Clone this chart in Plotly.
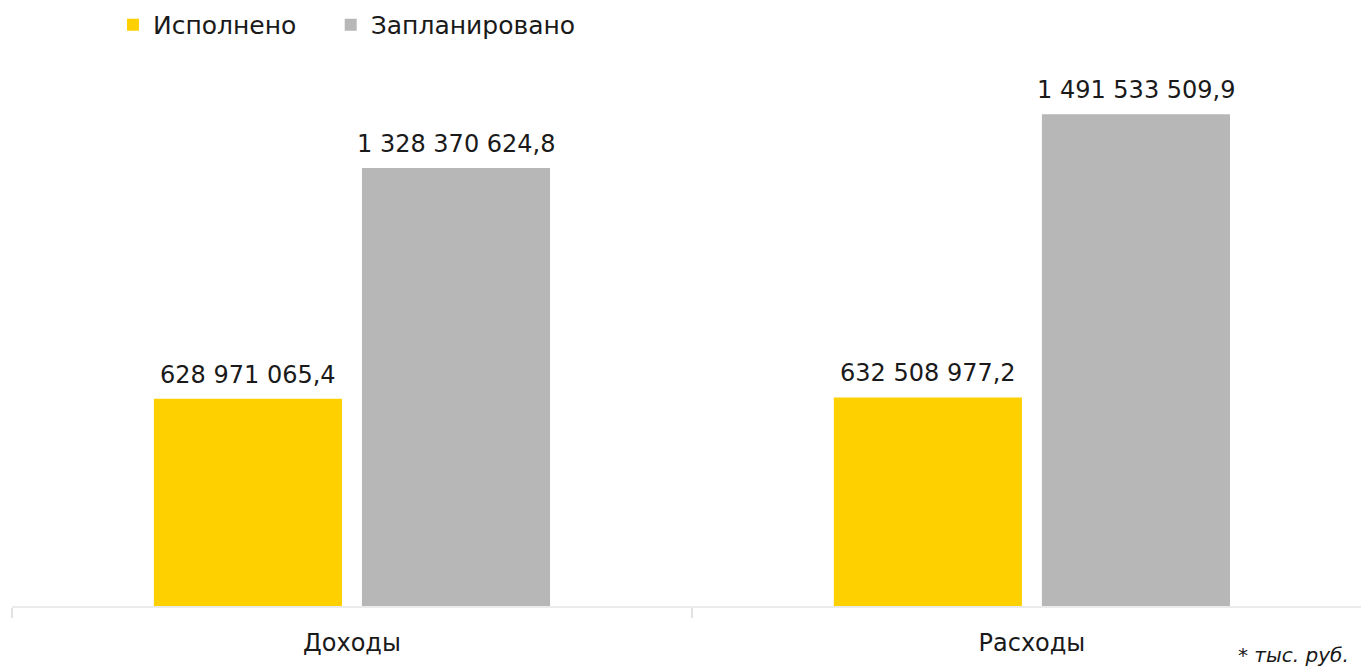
import plotly.graph_objects as go

categories = ["Доходы", "Расходы"]
executed = [628971065.4, 632508977.2]
planned = [1328370624.8, 1491533509.9]
series_names = ["Исполнено", "Запланировано"]
colors = ["#FFD000", "#B7B7B7"]
note = "* тыс. руб."

def fmt(v):
    return f"{v:,.1f}".replace(",", " ").replace(".", ",")

FONT = "DejaVu Sans"
TXT = "#1a1a1a"
SLOT_PX = 104  # half of a bar slot, px

fig = go.Figure()
for i, (name, vals, col) in enumerate(zip(series_names, [executed, planned], colors)):
    fig.add_trace(go.Bar(
        x=categories, y=vals, name=name, marker_color=col, marker_line_width=0,
        legend="legend" if i == 0 else "legend2",
    ))

# value labels above bars
for i, vals in enumerate([executed, planned]):
    shift = -SLOT_PX if i == 0 else SLOT_PX
    for cat, v in zip(categories, vals):
        fig.add_annotation(x=cat, y=v, xref="x", yref="y", text=fmt(v), showarrow=False,
                           xanchor="center", yanchor="middle", xshift=shift, yshift=24,
                           font=dict(family=FONT, size=24, color=TXT))

leg_common = dict(orientation="h", xref="container", yref="paper", y=1.045,
                  xanchor="left", yanchor="middle", font=dict(size=25, family=FONT, color=TXT),
                  itemwidth=30, bgcolor="rgba(0,0,0,0)")

fig.update_layout(
    width=1361, height=667,
    margin=dict(l=12, r=0, t=50, b=61, autoexpand=False),
    paper_bgcolor="white", plot_bgcolor="white",
    barmode="group", bargap=0.388, bargroupgap=0.096,
    font=dict(family=FONT, size=24, color=TXT),
    showlegend=True,
    legend=dict(x=0.083, **leg_common),
    legend2=dict(x=0.243, **leg_common),
    xaxis=dict(range=[-0.5, 1.484], showline=True, linecolor="#ebebeb", linewidth=2,
               ticks="outside", tickson="boundaries", ticklen=10, tickcolor="#e3e3e3",
               tickwidth=1.5, showgrid=False, automargin=False,
               tickfont=dict(size=24, family=FONT, color=TXT), ticklabelstandoff=14),
    yaxis=dict(range=[0, 1686.4e6], visible=False, showgrid=False, automargin=False),
)
fig.add_annotation(text=note, xref="paper", yref="paper", x=1, y=0, xanchor="right", yanchor="middle",
                   xshift=-10, yshift=-49, showarrow=False,
                   font=dict(family=FONT, size=20, color=TXT, style="italic"))

fig.write_html("out.html", config={"displayModeBar": False},
               post_script="document.body.style.margin='0';")
